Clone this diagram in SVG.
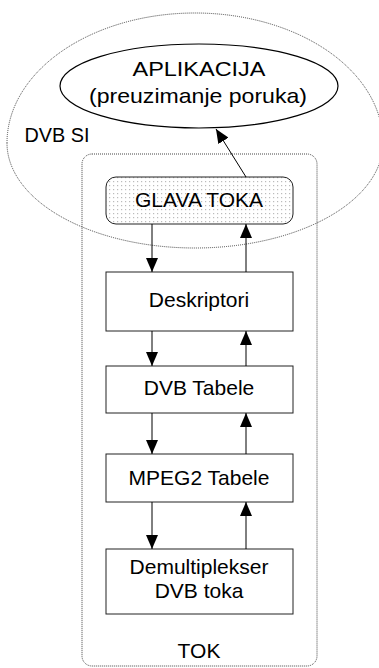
<svg xmlns="http://www.w3.org/2000/svg" width="379" height="668" viewBox="0 0 379 668">
  <style>
    .lbl { font-family: "Liberation Sans", Arial, sans-serif; font-size: 21px; fill: #000; text-anchor: middle; }
    .box { fill: #fff; stroke: #222; stroke-width: 1; }
    .dotted { fill: none; stroke: #444; stroke-width: 1; stroke-dasharray: 1 1; }
    .conn { stroke: #000; stroke-width: 1; fill: none; marker-end: url(#head); }
  </style>
  <defs>
    <marker id="head" viewBox="0 0 14 12" refX="14" refY="6" markerWidth="14" markerHeight="12" markerUnits="userSpaceOnUse" orient="auto">
      <path d="M0,0 L14,6 L0,12 Z" fill="#000"/>
    </marker>
    <pattern id="dots" width="4" height="4" patternUnits="userSpaceOnUse">
      <rect width="4" height="4" fill="#fff"/>
      <rect x="1" y="1" width="1.2" height="1.2" fill="#bbb"/>
    </pattern>
  </defs>
  <rect width="379" height="668" fill="#fff"/>

  <!-- DVB SI region -->
  <g id="dvb-si">
    <path class="dotted" d="M 7 143 A 188 130 0 0 1 383 143 A 188 105 0 0 1 7 143 Z"/>
    <text class="lbl" x="57" y="142" textLength="65" lengthAdjust="spacingAndGlyphs">DVB SI</text>
  </g>

  <!-- TOK region -->
  <g id="tok">
    <rect class="dotted" x="82" y="154" width="235" height="512" rx="10"/>
    <text class="lbl" x="199" y="658">TOK</text>
  </g>

  <g id="aplikacija">
    <ellipse cx="199" cy="86" rx="139" ry="42" fill="none" stroke="#000" stroke-width="1.2"/>
    <text class="lbl" x="199" y="76" textLength="133" lengthAdjust="spacingAndGlyphs">APLIKACIJA</text>
    <text class="lbl" x="198" y="103" textLength="218" lengthAdjust="spacingAndGlyphs">(preuzimanje poruka)</text>
  </g>

  <g id="glava-toka">
    <rect x="106" y="177" width="187" height="47" rx="10" fill="url(#dots)" stroke="#222" stroke-width="1"/>
    <text class="lbl" x="199" y="207">GLAVA TOKA</text>
  </g>

  <g id="deskriptori">
    <rect class="box" x="106" y="272" width="187" height="59"/>
    <text class="lbl" x="199" y="307">Deskriptori</text>
  </g>

  <g id="dvb-tabele">
    <rect class="box" x="106" y="366" width="187" height="47"/>
    <text class="lbl" x="199" y="395">DVB Tabele</text>
  </g>

  <g id="mpeg2-tabele">
    <rect class="box" x="106" y="454" width="187" height="48"/>
    <text class="lbl" x="199" y="485">MPEG2 Tabele</text>
  </g>

  <g id="demultiplekser">
    <rect class="box" x="106" y="549" width="187" height="65"/>
    <text class="lbl" x="199" y="574">Demultiplekser</text>
    <text class="lbl" x="199" y="598">DVB toka</text>
  </g>

  <g id="connectors">
    <!-- downward flow -->
    <line class="conn" x1="152" y1="224" x2="152" y2="272"/>
    <line class="conn" x1="152" y1="331" x2="152" y2="366"/>
    <line class="conn" x1="152" y1="413" x2="152" y2="454"/>
    <line class="conn" x1="152" y1="502" x2="152" y2="549"/>
    <!-- upward flow -->
    <line class="conn" x1="246" y1="549" x2="246" y2="502"/>
    <line class="conn" x1="246" y1="454" x2="246" y2="413"/>
    <line class="conn" x1="246" y1="366" x2="246" y2="331"/>
    <line class="conn" x1="246" y1="272" x2="246" y2="224"/>
    <line class="conn" x1="246" y1="177" x2="216" y2="129"/>
  </g>
</svg>
